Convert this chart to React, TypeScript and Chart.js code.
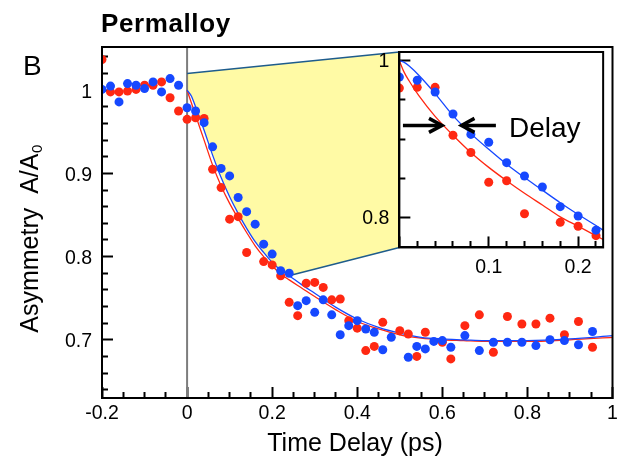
import React, { useEffect, useRef } from 'react';
import { Chart, registerables } from 'chart.js';

Chart.register(...registerables);

// ---------------- data ----------------
const TIMES = [
  -0.2, -0.18, -0.16, -0.14, -0.12, -0.1, -0.08, -0.06, -0.04, -0.02,
  0, 0.02, 0.04, 0.06, 0.08, 0.1, 0.12, 0.14, 0.16, 0.18,
  0.2, 0.22, 0.24, 0.26, 0.28, 0.3, 0.32, 0.34, 0.36, 0.38,
  0.4, 0.42, 0.44, 0.46, 0.48, 0.5, 0.52, 0.54, 0.56, 0.58,
  0.6, 0.62, 0.653, 0.687, 0.72, 0.753, 0.787, 0.82, 0.853, 0.887,
  0.92, 0.953,
];
const RED_ASYM = [
  1.037, 0.998, 0.998, 0.999, 1.001, 1.006, 1.006, 1.01, 0.991, 0.975,
  0.965, 0.967, 0.966, 0.905, 0.883, 0.845, 0.848, 0.805, null, 0.794,
  0.79, 0.777, 0.745, 0.729, 0.768, 0.769, 0.763, 0.748, 0.749, 0.723,
  0.714, 0.687, 0.692, 0.721, null, 0.711, 0.707, 0.68, 0.709, null,
  0.697, 0.677, 0.717, 0.73, 0.685, 0.728, 0.719, 0.719, 0.726, 0.706,
  0.722, 0.691,
];
const BLUE_ASYM = [
  1.001, 1.005, 0.986, 1.008, 1.006, 1.002, 1.01, 0.998, 1.014, 1.006,
  0.979, 0.975, 0.961, 0.932, 0.906, 0.897, 0.871, 0.854, 0.839, 0.815,
  0.803, 0.783, 0.78, 0.741, 0.747, 0.733, 0.748, 0.73, 0.706, 0.717,
  0.723, 0.713, 0.709, 0.688, 0.703, null, 0.679, 0.692, 0.689, 0.698,
  0.699, 0.691, 0.705, 0.687, 0.697, 0.697, 0.697, 0.693, 0.7, 0.699,
  0.694, 0.71,
];
const FIT_TIMES = [
  0, 0.01, 0.02, 0.04, 0.06, 0.08, 0.1, 0.12, 0.14, 0.16, 0.18, 0.2, 0.22,
  0.24, 0.27, 0.3, 0.35, 0.4, 0.45, 0.5, 0.55, 0.6, 0.65, 0.7, 0.8, 0.9, 1.0,
];
const BLUE_FIT = [
  1.0, 0.993, 0.98, 0.952, 0.922, 0.895, 0.872, 0.852, 0.834, 0.818, 0.805, 0.793, 0.784,
  0.777, 0.766, 0.756, 0.739, 0.725, 0.715, 0.708, 0.703, 0.701, 0.7, 0.699, 0.699, 0.701, 0.705,
];
const RED_FIT = [
  1.0, 0.985, 0.97, 0.94, 0.91, 0.885, 0.864, 0.846, 0.829, 0.813, 0.8, 0.789, 0.779,
  0.772, 0.762, 0.752, 0.736, 0.722, 0.713, 0.706, 0.702, 0.7, 0.699, 0.698, 0.698, 0.7, 0.703,
];

const INSET_TIMES = [0, 0.02, 0.04, 0.06, 0.08, 0.1, 0.12, 0.14, 0.16, 0.18, 0.2, 0.22];
const INSET_RED = [0.965, 0.966, 0.966, 0.905, 0.883, 0.845, 0.847, 0.805, null, 0.794, 0.789, 0.777];
const INSET_BLUE = [0.979, 0.975, 0.96, 0.932, 0.906, 0.896, 0.87, 0.853, 0.839, 0.814, 0.802, 0.784];
const INSET_FIT_TIMES = [0, 0.005, 0.011, 0.022, 0.04, 0.06, 0.08, 0.1, 0.12, 0.14, 0.16, 0.18, 0.2, 0.22, 0.228];
const INSET_BLUE_FIT = [1.0, 0.998, 0.993, 0.981, 0.958, 0.93, 0.907, 0.887, 0.868, 0.851, 0.835, 0.819, 0.804, 0.79, 0.784];
const INSET_RED_FIT = [1.0, 0.986, 0.974, 0.955, 0.929, 0.905, 0.883, 0.864, 0.847, 0.831, 0.816, 0.801, 0.789, 0.777, 0.772];

// axis ranges / ticks
const X_RANGE = [-0.2, 1];
const Y_RANGE = [0.63, 1.052];
const X_STEP = 0.05, X_MAJOR = 0.2;
const Y_STEP = 0.02, Y_MAJOR = 0.1;
const INSET_X_RANGE = [0, 0.228];
const INSET_Y_RANGE = [0.762, 1.011];
const INSET_X_STEP = 0.02, INSET_X_MAJOR = 0.1;
const INSET_Y_STEP = 0.05, INSET_Y_MAJOR = 0.2;

// zoom window (in main-plot data coordinates) and connectors
const INSET_BOX = { xMin: 0.499, xMax: 0.978, yMin: 0.811, yMax: 1.046 };
const ZOOM_TOP = [0, 1.02];
const ZOOM_BOTTOM = [0.246, 0.778];

// "Delay" annotation (inset data coordinates)
const DELAY_LEVEL = 0.9175;
const ARROW_RIGHT = [0.004, 0.0477];
const ARROW_LEFT = [0.108, 0.0695];
const DELAY_LABEL = { text: 'Delay', x: 0.1226, y: 0.9027 };

// ---------------- style / layout ----------------
const W = 617, H = 463;
const MAIN_AREA = { left: 102, right: 614, top: 47, bottom: 398 };
const FONT = '"Liberation Sans", Arial, Helvetica, sans-serif';
const TICK_FONT_SIZE = 19.5;
const RED = 'rgb(255,40,18)';
const BLUE = 'rgb(22,72,255)';
const YELLOW = 'rgb(255,250,165)';
const TEAL = 'rgb(30,92,140)';

const pts = (xs: number[], ys: (number | null)[]) => xs.map((x, i) => ({ x, y: ys[i] }));
const isMult = (v: number, step: number) => Math.abs(v / step - Math.round(v / step)) < 1e-6;
const fmt = (v: number) => String(Number(v.toFixed(2)));

function makeAxis(o: {
  kind: 'x' | 'y'; min: number; max: number; step: number; major: number;
  padding: number; size: number; labelOffset?: number; show?: (v: number) => boolean;
}) {
  const show = o.show || (() => true);
  return {
    type: 'linear',
    position: o.kind === 'x' ? 'bottom' : 'left',
    min: o.min,
    max: o.max,
    ticks: {
      stepSize: o.step,
      autoSkip: false,
      includeBounds: false,
      maxRotation: 0,
      minRotation: 0,
      padding: o.padding,
      labelOffset: o.labelOffset || 0,
      color: '#000',
      font: { family: FONT, size: TICK_FONT_SIZE },
      callback: (v: number) => (isMult(v, o.major) && show(v) ? fmt(v) : ''),
    },
    grid: {
      display: true,
      drawOnChartArea: false,
      drawTicks: true,
      tickLength: -11,
      tickColor: '#000',
      tickWidth: 2,
      tickBorderDash: (c: any) => {
        if (!c || !c.tick) return [];
        if (isMult(c.tick.value, o.major)) return [];
        return o.kind === 'x' ? [7, 100] : [0, 5, 8, 100];
      },
    },
    border: { display: true, color: '#000', width: 2 },
    title: { display: false },
    afterFit: (s: any) => {
      if (o.kind === 'x') {
        s.height = o.size;
        s.paddingLeft = 0;
        s.paddingRight = 0;
      } else {
        s.width = o.size;
        s.paddingTop = 0;
        s.paddingBottom = 0;
      }
    },
  };
}

function drawArrow(ctx: CanvasRenderingContext2D, x1: number, x2: number, y: number) {
  const dir = x2 > x1 ? 1 : -1;
  ctx.beginPath();
  ctx.moveTo(x1, y);
  ctx.lineTo(x2 - dir * 2, y);
  ctx.stroke();
  ctx.beginPath();
  ctx.moveTo(x2 - dir * 13, y - 7);
  ctx.lineTo(x2, y);
  ctx.lineTo(x2 - dir * 13, y + 7);
  ctx.stroke();
}

const mainDecor = {
  id: 'mainDecor',
  beforeDatasetsDraw(chart: any) {
    const { ctx, chartArea } = chart;
    const xs = chart.scales.x, ys = chart.scales.y;
    const P = (x: number, y: number): [number, number] => [xs.getPixelForValue(x), ys.getPixelForValue(y)];
    ctx.save();
    // yellow zoom region
    ctx.beginPath();
    ctx.moveTo(...P(ZOOM_TOP[0], ZOOM_TOP[1]));
    ctx.lineTo(...P(INSET_BOX.xMin, INSET_BOX.yMax));
    ctx.lineTo(...P(INSET_BOX.xMin, INSET_BOX.yMin));
    ctx.lineTo(...P(ZOOM_BOTTOM[0], ZOOM_BOTTOM[1]));
    for (let i = FIT_TIMES.length - 1; i >= 0; i--) {
      if (FIT_TIMES[i] < ZOOM_BOTTOM[0]) ctx.lineTo(...P(FIT_TIMES[i], BLUE_FIT[i]));
    }
    ctx.closePath();
    ctx.fillStyle = YELLOW;
    ctx.fill();
    // zero line
    const x0 = xs.getPixelForValue(0);
    ctx.strokeStyle = 'rgb(125,125,125)';
    ctx.lineWidth = 2;
    ctx.beginPath();
    ctx.moveTo(x0, chartArea.top);
    ctx.lineTo(x0, chartArea.bottom);
    ctx.stroke();
    // connectors
    ctx.strokeStyle = TEAL;
    ctx.lineWidth = 1.5;
    ctx.beginPath();
    ctx.moveTo(...P(ZOOM_TOP[0], ZOOM_TOP[1]));
    ctx.lineTo(...P(INSET_BOX.xMin, INSET_BOX.yMax));
    ctx.moveTo(...P(ZOOM_BOTTOM[0], ZOOM_BOTTOM[1]));
    ctx.lineTo(...P(INSET_BOX.xMin, INSET_BOX.yMin));
    ctx.stroke();
    ctx.restore();
  },
  afterDraw(chart: any) {
    const { ctx, chartArea } = chart;
    ctx.save();
    ctx.strokeStyle = '#000';
    ctx.lineWidth = 2;
    ctx.strokeRect(chartArea.left, chartArea.top, chartArea.right - chartArea.left, chartArea.bottom - chartArea.top);

    ctx.fillStyle = '#000';
    ctx.textBaseline = 'alphabetic';
    // title
    ctx.textAlign = 'left';
    ctx.font = `bold 26px ${FONT}`;
    (ctx as any).letterSpacing = '0.6px';
    ctx.fillText('Permalloy', 101, 32);
    (ctx as any).letterSpacing = '0px';
    // panel letter
    ctx.font = `28px ${FONT}`;
    ctx.fillText('B', 23, 75);
    // x title
    ctx.textAlign = 'center';
    ctx.font = `25px ${FONT}`;
    ctx.fillText('Time Delay (ps)', 355, 451);
    // y title
    ctx.translate(38, 239);
    ctx.rotate(-Math.PI / 2);
    ctx.textAlign = 'left';
    const main = 'Asymmetry  A/A';
    ctx.font = `25px ${FONT}`;
    const w1 = ctx.measureText(main).width;
    ctx.font = `15px ${FONT}`;
    const w2 = ctx.measureText('0').width;
    const start = -(w1 + w2) / 2;
    ctx.font = `25px ${FONT}`;
    ctx.fillText(main, start, 0);
    ctx.font = `15px ${FONT}`;
    ctx.fillText('0', start + w1 + 0.5, 4);
    ctx.restore();
  },
};

const insetDecor = {
  id: 'insetDecor',
  beforeDraw(chart: any) {
    const { ctx, chartArea } = chart;
    ctx.save();
    ctx.fillStyle = '#fff';
    ctx.fillRect(chartArea.left, chartArea.top, chartArea.right - chartArea.left, chartArea.bottom - chartArea.top);
    ctx.restore();
  },
  afterDraw(chart: any) {
    const { ctx, chartArea } = chart;
    const xs = chart.scales.x, ys = chart.scales.y;
    ctx.save();
    ctx.strokeStyle = '#000';
    ctx.lineWidth = 2;
    ctx.strokeRect(chartArea.left, chartArea.top, chartArea.right - chartArea.left, chartArea.bottom - chartArea.top);
    // arrows
    const y = ys.getPixelForValue(DELAY_LEVEL);
    ctx.lineWidth = 3.5;
    ctx.lineCap = 'butt';
    ctx.lineJoin = 'miter';
    drawArrow(ctx, xs.getPixelForValue(ARROW_RIGHT[0]), xs.getPixelForValue(ARROW_RIGHT[1]), y);
    drawArrow(ctx, xs.getPixelForValue(ARROW_LEFT[0]), xs.getPixelForValue(ARROW_LEFT[1]), y);
    // label
    ctx.fillStyle = '#000';
    ctx.font = `28px ${FONT}`;
    ctx.textAlign = 'left';
    ctx.textBaseline = 'alphabetic';
    ctx.fillText(DELAY_LABEL.text, xs.getPixelForValue(DELAY_LABEL.x), ys.getPixelForValue(DELAY_LABEL.y));
    ctx.restore();
  },
};

const pointSet = (data: any[], color: string) => ({
  data,
  showLine: false,
  pointRadius: 4.5,
  pointHoverRadius: 4.5,
  pointBorderWidth: 0,
  pointBackgroundColor: color,
  pointBorderColor: color,
  clip: 0,
});
const lineSet = (data: any[], color: string) => ({
  data,
  showLine: true,
  borderColor: color,
  borderWidth: 1.3,
  pointRadius: 0,
  pointHoverRadius: 0,
  fill: false,
  cubicInterpolationMode: 'monotone',
});

const baseOptions = {
  responsive: false,
  maintainAspectRatio: false,
  animation: false,
  devicePixelRatio: 1,
  events: [],
  plugins: { legend: { display: false }, tooltip: { enabled: false }, title: { display: false } },
};

export default function App() {
  const mainRef = useRef<HTMLCanvasElement>(null);
  const insetRef = useRef<HTMLCanvasElement>(null);

  useEffect(() => {
    const main = new Chart(mainRef.current as HTMLCanvasElement, {
      type: 'line',
      data: {
        datasets: [
          pointSet(pts(TIMES, BLUE_ASYM), BLUE),
          pointSet(pts(TIMES, RED_ASYM), RED),
          lineSet(pts(FIT_TIMES, BLUE_FIT), BLUE),
          lineSet(pts(FIT_TIMES, RED_FIT), RED),
        ] as any,
      },
      options: {
        ...baseOptions,
        layout: { padding: { left: 0, top: MAIN_AREA.top, right: W - MAIN_AREA.right, bottom: 0 } },
        scales: {
          x: makeAxis({ kind: 'x', min: X_RANGE[0], max: X_RANGE[1], step: X_STEP, major: X_MAJOR, padding: 15, size: H - MAIN_AREA.bottom }),
          y: makeAxis({ kind: 'y', min: Y_RANGE[0], max: Y_RANGE[1], step: Y_STEP, major: Y_MAJOR, padding: 21, size: MAIN_AREA.left, labelOffset: 2 }),
        },
      } as any,
      plugins: [mainDecor],
    });

    const mx = main.scales.x, my = main.scales.y;
    const L = mx.getPixelForValue(INSET_BOX.xMin);
    const R = mx.getPixelForValue(INSET_BOX.xMax);
    const T = my.getPixelForValue(INSET_BOX.yMax);
    const B = my.getPixelForValue(INSET_BOX.yMin);

    const inset = new Chart(insetRef.current as HTMLCanvasElement, {
      type: 'line',
      data: {
        datasets: [
          pointSet(pts(INSET_TIMES, INSET_BLUE), BLUE),
          pointSet(pts(INSET_TIMES, INSET_RED), RED),
          lineSet(pts(INSET_FIT_TIMES, INSET_BLUE_FIT), BLUE),
          lineSet(pts(INSET_FIT_TIMES, INSET_RED_FIT), RED),
        ] as any,
      },
      options: {
        ...baseOptions,
        layout: { padding: { left: 0, top: T, right: W - R, bottom: 0 } },
        scales: {
          x: makeAxis({ kind: 'x', min: INSET_X_RANGE[0], max: INSET_X_RANGE[1], step: INSET_X_STEP, major: INSET_X_MAJOR, padding: 19, size: H - B, show: (v) => v > 0.001 }),
          y: makeAxis({ kind: 'y', min: INSET_Y_RANGE[0], max: INSET_Y_RANGE[1], step: INSET_Y_STEP, major: INSET_Y_MAJOR, padding: 21, size: L, labelOffset: 1 }),
        },
      } as any,
      plugins: [insetDecor],
    });

    return () => {
      inset.destroy();
      main.destroy();
    };
  }, []);

  const cs: React.CSSProperties = { position: 'absolute', left: 0, top: 0, width: W, height: H };
  return (
    <div style={{ position: 'absolute', left: 0, top: 0, width: W, height: H, background: '#fff' }}>
      <canvas ref={mainRef} width={W} height={H} style={cs} />
      <canvas ref={insetRef} width={W} height={H} style={cs} />
    </div>
  );
}
